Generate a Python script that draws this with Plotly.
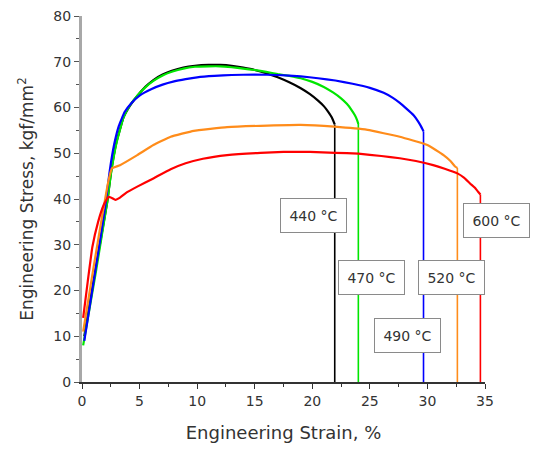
import plotly.graph_objects as go

# ---- data (engineering strain %, engineering stress kgf/mm^2) ----
labels = ["440 °C", "470 °C", "490 °C", "520 °C", "600 °C"]
colors = ["#000000", "#00e600", "#0000ff", "#ff8c1a", "#ff0000"]

strain_440 = [0.2, 1.2, 2.2, 2.5, 3.0, 3.6, 4.2, 4.8, 5.5, 6.2, 7.0, 7.8, 8.8, 9.8, 11.0, 12.0, 13.0,
              14.0, 15.0, 16.0, 17.0, 18.0, 19.0, 19.8, 20.5, 21.0, 21.4, 21.7, 21.95]
stress_440 = [10, 25, 39.5, 45.5, 52.5, 57.8, 60.5, 62.5, 64.5, 66.0, 67.2, 68.0, 68.7, 69.1, 69.3, 69.3, 69.1,
              68.7, 68.2, 67.5, 66.6, 65.5, 64.2, 62.9, 61.5, 60.3, 59.0, 57.8, 56.3]

strain_470 = [0.1, 1.2, 2.2, 2.5, 3.0, 3.6, 4.2, 4.8, 5.5, 6.2, 7.0, 7.8, 8.8, 9.8, 11.0, 12.0, 13.0, 14.0,
              15.0, 16.0, 17.0, 18.0, 19.0, 20.0, 21.0, 21.8, 22.5, 23.0, 23.4, 23.7, 23.9, 24.0]
stress_470 = [8, 24, 39.5, 45.3, 52.3, 57.8, 60.6, 62.6, 64.4, 65.8, 67.0, 67.8, 68.5, 68.9, 69.0, 69.0, 68.8, 68.5,
              68.2, 67.8, 67.3, 66.9, 66.4, 65.6, 64.5, 63.3, 62.0, 60.8, 59.5, 58.3, 57.2, 56.4]

strain_490 = [0.2, 1.2, 2.0, 2.4, 2.8, 3.2, 3.7, 4.3, 5.0, 6.0, 7.0, 8.0, 9.0, 10.0, 11.5, 13.0, 15.0, 17.0,
              19.0, 20.5, 22.0, 23.5, 25.0, 26.2, 27.0, 27.6, 28.2, 28.8, 29.2, 29.5, 29.66]
stress_490 = [9, 25, 38, 46, 52, 56, 59, 61, 62.6, 64.0, 65.0, 65.7, 66.2, 66.6, 66.9, 67.1, 67.2, 67.1,
              66.8, 66.4, 65.9, 65.2, 64.3, 63.2, 62.1, 61.0, 59.7, 58.3, 56.9, 55.6, 54.8]

strain_520 = [0.1, 1.0, 1.8, 2.3, 2.6, 3.3, 4.8, 6.2, 7.7, 9.7, 12.6, 15.5, 19.0, 21.9, 24.8, 27.6, 30.0,
              31.4, 32.0, 32.4, 32.6]
stress_520 = [11, 25, 37, 44, 46.7, 47.4, 49.6, 51.8, 53.6, 54.9, 55.7, 56.0, 56.2, 55.8, 55.1, 53.6, 51.8,
              49.6, 48.3, 47.1, 46.8]

strain_600 = [0.1, 0.5, 0.9, 1.4, 1.9, 2.3, 2.6, 2.9, 3.3, 3.8, 4.8, 6.2, 7.7, 9.0, 10.5, 12.6, 15.5, 17.5,
              19.8, 22.0, 24.0, 26.0, 27.6, 29.0, 30.5, 31.5, 32.6, 33.2, 33.7, 34.1, 34.4, 34.6]
stress_600 = [14, 22, 29.5, 35, 38.8, 40.5, 40.2, 39.8, 40.3, 41.3, 42.7, 44.5, 46.5, 47.8, 48.8, 49.6, 50.1, 50.3,
              50.3, 50.1, 49.9, 49.4, 48.9, 48.3, 47.4, 46.6, 45.6, 44.6, 43.4, 42.5, 41.6, 41.0]

# label box positions (left edge strain, centre stress)
label_x = [17.2, 22.24, 25.36, 29.17, 33.13]
label_y = [36.5, 22.9, 10.1, 22.9, 35.4]

x_ticks = [0, 5, 10, 15, 20, 25, 30, 35]
y_ticks = [0, 10, 20, 30, 40, 50, 60, 70, 80]

series = [(strain_440, stress_440), (strain_470, stress_470), (strain_490, stress_490),
          (strain_520, stress_520), (strain_600, stress_600)]

FONT = "DejaVu Sans, Arial, sans-serif"
fig = go.Figure()

for (xs, ys), c, name in zip(series, colors, labels):
    fig.add_trace(go.Scatter(x=xs, y=ys, mode="lines", line=dict(color=c, width=2.2, shape="spline", smoothing=0.3),
                             name=name, showlegend=False, hoverinfo="skip"))
    # fracture drop to zero
    fig.add_trace(go.Scatter(x=[xs[-1], xs[-1]], y=[ys[-1], 0], mode="lines",
                             line=dict(color=c, width=1.6), showlegend=False, hoverinfo="skip"))

for name, lx, ly in zip(labels, label_x, label_y):
    fig.add_annotation(x=lx, y=ly, xref="x", yref="y", text=name, showarrow=False,
                       xanchor="left", yanchor="middle", width=65, height=33,
                       bgcolor="white", bordercolor="#8a8a8a", borderwidth=1, borderpad=0,
                       font=dict(family=FONT, size=14, color="#333333"))

fig.update_layout(
    width=533, height=449,
    margin=dict(l=82, r=48, t=16, b=67),
    paper_bgcolor="white", plot_bgcolor="white",
    font=dict(family=FONT, color="#333333"),
    xaxis=dict(range=[0, 35], tickvals=x_ticks, ticktext=[str(v) for v in x_ticks], automargin=False,
               ticks="outside", ticklen=5, tickcolor="#333333", tickwidth=1.2,
               minor=dict(ticks="outside", ticklen=3, dtick=2.5, tick0=0, tickcolor="#333333"),
               showline=True, linecolor="#333333", linewidth=1.5, showgrid=False, zeroline=False,
               tickfont=dict(size=14, color="#333333"),
               title=dict(text="Engineering Strain, %", font=dict(size=18, color="#333333"), standoff=19)),
    xaxis2=dict(range=[0, 35], overlaying="x", side="top", tickvals=x_ticks, showticklabels=False,
                ticks="inside", ticklen=7, tickcolor="#555555", tickwidth=1.2,
                minor=dict(ticks="inside", ticklen=4, dtick=2.5, tick0=0, tickcolor="#555555"),
                showline=True, linecolor="#a0a0a0", linewidth=2, showgrid=False, zeroline=False),
    yaxis=dict(range=[0, 80], tickvals=y_ticks, ticktext=[str(v) for v in y_ticks], automargin=False,
               ticks="outside", ticklen=5, tickcolor="#555555", tickwidth=1.2,
               minor=dict(ticks="outside", ticklen=3, dtick=5, tick0=0, tickcolor="#555555"),
               showline=True, linecolor="#a8a8a8", linewidth=3, showgrid=False, zeroline=False,
               tickfont=dict(size=14, color="#333333"),
               title=dict(text="Engineering Stress, kgf/mm<sup>2</sup>", font=dict(size=17, color="#333333"),
                          standoff=16)),
    yaxis2=dict(range=[0, 80], overlaying="y", side="right", showticklabels=False, ticks="",
                showline=True, linecolor="#a8a8a8", linewidth=3, showgrid=False, zeroline=False),
)

fig.write_html("out.html", config={"displayModeBar": False},
               post_script="document.body.style.margin='0';document.body.style.overflow='hidden';")
